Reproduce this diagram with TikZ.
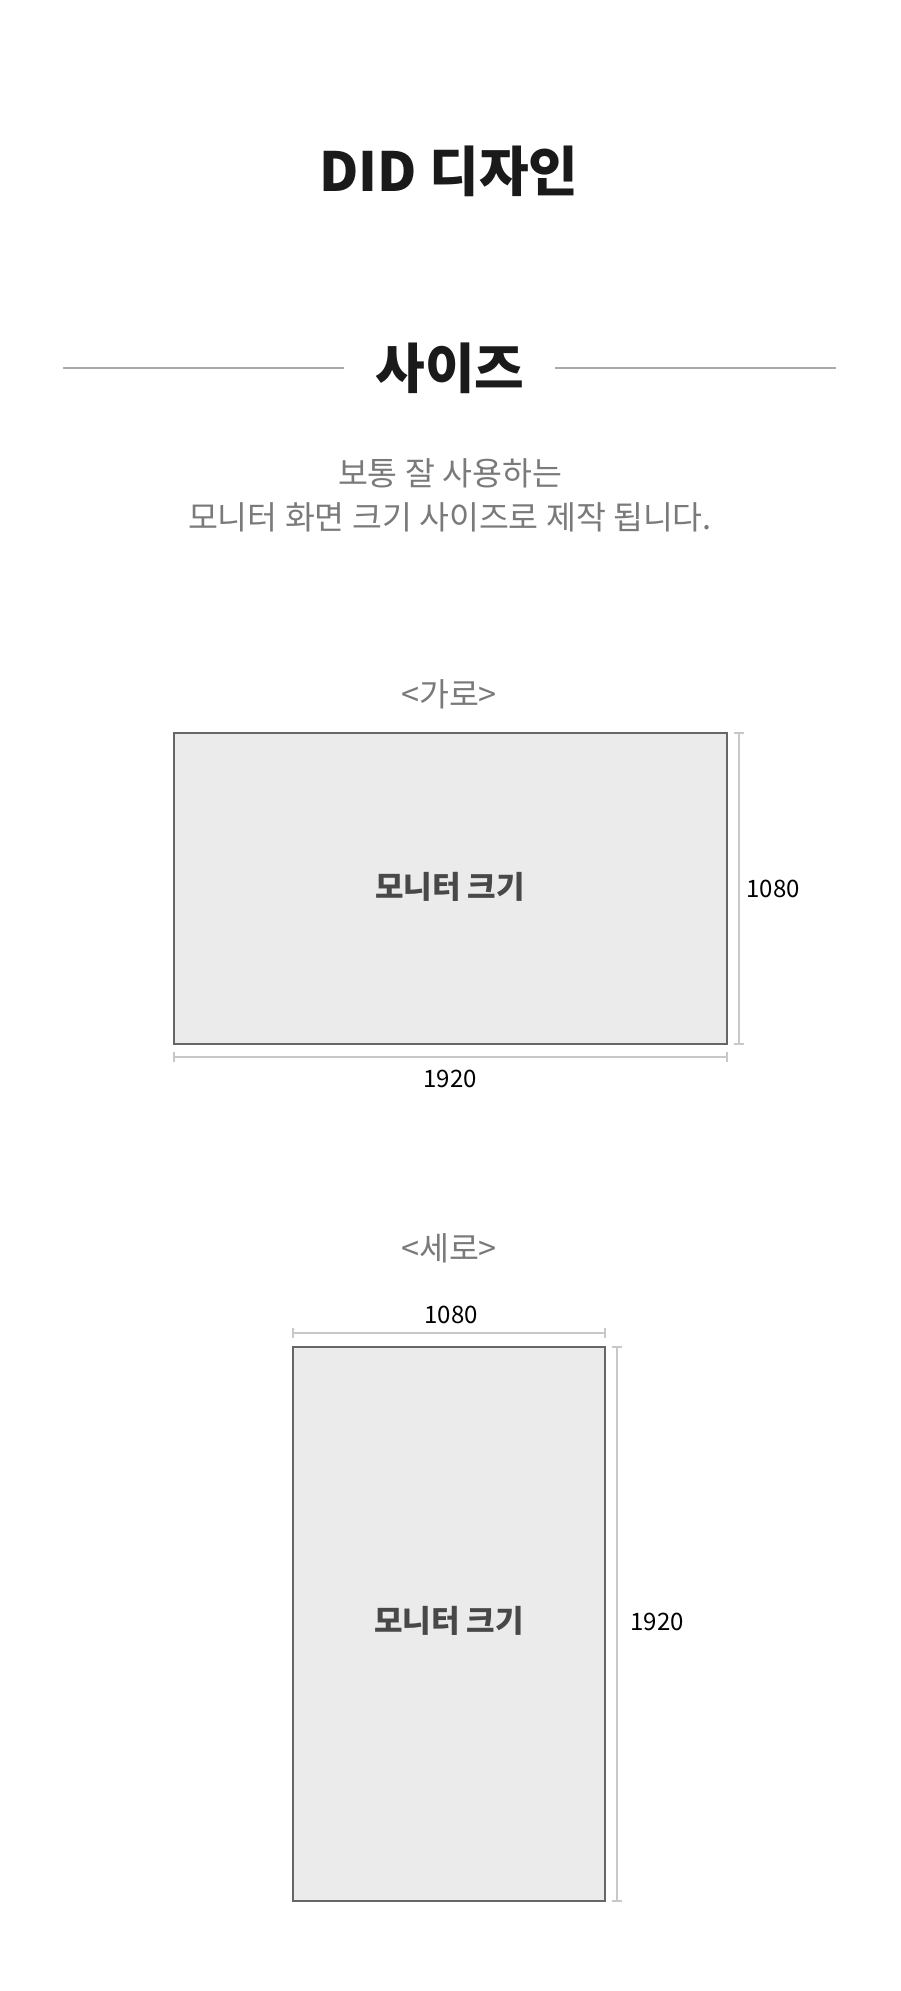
\documentclass[tikz,border=0pt]{standalone}
\usepackage{fontspec}
\setmainfont{Noto Sans CJK KR}
\newfontfamily\kr{Noto Sans CJK KR}
\definecolor{ink}{HTML}{1A1A1A}
\definecolor{subgray}{HTML}{7A7A7A}
\definecolor{rulegray}{HTML}{AAAAAA}
\definecolor{boxfill}{HTML}{EBEBEB}
\definecolor{boxline}{HTML}{666666}
\definecolor{dimgray}{HTML}{C8C8C8}
\definecolor{boxtext}{HTML}{484848}
\tikzset{
  txt/.style={inner sep=0pt, anchor=center},
  title/.style={txt, text=ink, font=\kr\bfseries\fontsize{54}{60}\selectfont},
  section/.style={txt, text=ink, font=\kr\bfseries\fontsize{54}{60}\selectfont},
  sub/.style={txt, text=subgray, font=\kr\fontsize{32.5}{38}\selectfont},
  label/.style={txt, text=subgray, font=\kr\fontsize{32.5}{38}\selectfont},
  boxlabel/.style={txt, text=boxtext, font=\kr\bfseries\fontsize{31}{36}\selectfont},
  dimtext/.style={txt, text=black, font=\kr\fontsize{24}{28}\selectfont},
  monitor/.style={draw=boxline, fill=boxfill, line width=1.5pt},
  sideline/.style={draw=rulegray, line width=1.2pt},
  dimline/.style={draw=dimgray, line width=1.2pt},
}
\begin{document}
\begin{tikzpicture}[x=1pt,y=-1pt]
\useasboundingbox (0,0) rectangle (900,1991);
\fill[white] (0,0) rectangle (900,1991);

\node[title] (t) at (449,171) {DID 디자인};

\node[section] (s) at (450,368) {사이즈};
\coordinate (l1) at (63,368);
\coordinate (l2) at (344,368);
\coordinate (r1) at (555,368);
\coordinate (r2) at (836,368);
\draw[sideline] (l1) -- (l2);
\draw[sideline] (r1) -- (r2);

\node[sub] (sub1) at (450,473) {보통 잘 사용하는};
\node[sub] (sub2) at (450,517) {모니터 화면 크기 사이즈로 제작 됩니다.};

% landscape
\node[label] (garo) at (449,694) {<가로>};
\coordinate (a1) at (174,733);
\coordinate (a2) at (727,1044);
\draw[monitor] (a1) rectangle (a2);
\node[boxlabel] (am) at (450,887) {모니터 크기};
% vertical dimension
\coordinate (av1) at (739,733);
\coordinate (av2) at (739,1044);
\draw[dimline] (av1) -- (av2);
\draw[dimline] ([xshift=-5pt]av1) -- ([xshift=5pt]av1);
\draw[dimline] ([xshift=-5pt]av2) -- ([xshift=5pt]av2);
\node[dimtext] (ah) at (773,889) {1080};
% horizontal dimension
\coordinate (ah1) at (174,1057);
\coordinate (ah2) at (727,1057);
\draw[dimline] (ah1) -- (ah2);
\draw[dimline] ([yshift=-5pt]ah1) -- ([yshift=5pt]ah1);
\draw[dimline] ([yshift=-5pt]ah2) -- ([yshift=5pt]ah2);
\node[dimtext] (aw) at (450,1079) {1920};

% portrait
\node[label] (sero) at (449,1248) {<세로>};
\coordinate (b1) at (293,1347);
\coordinate (b2) at (605,1901);
\draw[monitor] (b1) rectangle (b2);
\node[boxlabel] (bm) at (449,1621) {모니터 크기};
% top dimension
\coordinate (bh1) at (293,1333);
\coordinate (bh2) at (605,1333);
\draw[dimline] (bh1) -- (bh2);
\draw[dimline] ([yshift=-5pt]bh1) -- ([yshift=5pt]bh1);
\draw[dimline] ([yshift=-5pt]bh2) -- ([yshift=5pt]bh2);
\node[dimtext] (bw) at (451,1315) {1080};
% right dimension
\coordinate (bv1) at (617,1347);
\coordinate (bv2) at (617,1901);
\draw[dimline] (bv1) -- (bv2);
\draw[dimline] ([xshift=-5pt]bv1) -- ([xshift=5pt]bv1);
\draw[dimline] ([xshift=-5pt]bv2) -- ([xshift=5pt]bv2);
\node[dimtext] (bh) at (657,1622) {1920};
\end{tikzpicture}
\end{document}
